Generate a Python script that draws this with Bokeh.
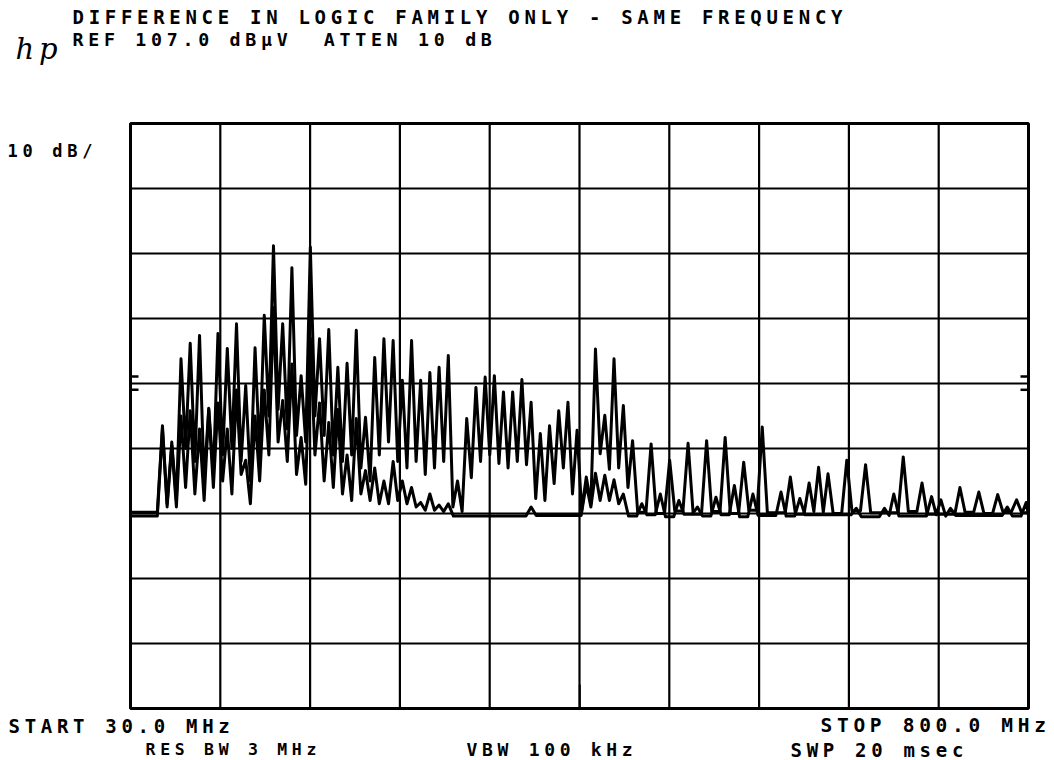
from bokeh.plotting import figure
from bokeh.models import Range1d, Label
from bokeh.embed import file_html
from bokeh.resources import INLINE

# ---------------- data ----------------
START_MHZ = 30.0
STOP_MHZ = 800.0
REF_DBUV = 107.0
BOTTOM_DBUV = 17.0

X_DIV_MHZ = [107, 184, 261, 338, 415, 492, 569, 646, 723]
Y_DIV_DBUV = [27, 37, 47, 57, 67, 77, 87, 97]

# Trace A: peaks (MHz, dBuV) and level of the dip that follows each peak
A_MHZ = [57.4, 65.4, 73.3, 81.2, 89.2, 97.1, 105.0, 113.0, 120.9, 128.8,
         136.8, 144.7, 152.6, 160.5, 168.4, 176.3, 184.2, 192.1, 200.0, 207.8,
         215.7, 223.6, 231.5, 239.4, 247.3, 255.2, 263.1, 271.0, 278.8, 286.7,
         294.6, 302.5, 310.4, 318.3, 326.2, 334.1, 342.0, 349.8, 357.7, 365.6,
         373.5, 381.4, 389.3, 397.2, 405.1, 412.9, 420.8, 428.7, 436.7, 444.6,
         452.6, 460.5, 476.4, 492.3, 508.1, 524.0, 539.9, 555.8, 571.7, 595.8,
         611.9, 620.0, 628.1, 644.2, 660.3, 692.6, 708.7, 741.2, 757.4, 773.6,
         789.8]
A_PEAK = [60.5, 58.0, 70.8, 73.2, 74.4, 63.2, 74.7, 72.4, 76.2, 66.7,
          72.5, 77.5, 88.2, 76.2, 84.8, 68.2, 88.0, 73.9, 75.3, 69.5,
          70.1, 75.2, 61.8, 71.0, 73.9, 73.6, 67.5, 73.6, 67.5, 68.7,
          69.5, 71.3, 52.0, 61.6, 66.4, 68.0, 68.2, 65.7, 65.7, 67.6,
          64.1, 59.3, 60.5, 62.8, 64.1, 59.8, 52.6, 72.3, 62.1, 70.8,
          63.6, 58.2, 57.7, 55.2, 57.8, 58.2, 58.7, 54.9, 60.3, 52.6,
          51.7, 54.1, 53.1, 55.2, 54.5, 55.7, 51.7, 51.0, 50.3, 49.9,
          49.1]
A_DIP = [48.5, 49.0, 57.0, 55.0, 52.0, 53.0, 56.0, 57.0, 55.0, 52.0,
         56.0, 62.0, 63.0, 60.0, 59.0, 58.0, 62.0, 59.0, 56.0, 55.0,
         56.0, 54.0, 52.0, 56.0, 58.0, 55.0, 54.0, 55.0, 53.0, 54.0,
         55.0, 48.0, 47.3, 52.5, 55.0, 56.0, 54.7, 54.0, 55.0, 54.5,
         49.3, 49.0, 51.6, 54.0, 50.0, 47.5, 48.5, 56.2, 53.8, 54.0,
         51.0, 47.2, 47.0, 47.4, 46.9, 47.3, 47.0, 47.5, 47.1, 46.9,
         47.3, 47.2, 47.0, 47.4, 47.1, 47.3, 46.9, 47.2, 47.0, 47.3,
         47.1]
A_FLOOR_START = 47.2

# Trace B
B_MHZ = [57.4, 65.4, 73.3, 81.2, 89.2, 97.1, 105.0, 113.0, 120.9, 128.8,
         136.8, 144.7, 152.6, 160.5, 168.4, 176.3, 184.2, 192.1, 200.0, 207.8,
         215.7, 223.6, 231.5, 239.4, 247.3, 255.2, 263.1, 271.0, 278.8, 286.7,
         294.6, 302.5, 373.5, 420.8, 428.7, 436.7, 444.6, 452.6, 468.4, 484.3,
         500.2, 516.1, 532.0, 547.8, 563.7, 587.8, 603.9, 652.3, 676.5, 684.5,
         716.9, 724.9, 733.1, 781.8, 798.0]
B_PEAK = [60.0, 57.5, 62.0, 62.8, 60.0, 63.0, 64.0, 60.0, 66.0, 55.2,
          62.0, 66.0, 78.7, 64.4, 70.0, 58.7, 74.0, 64.0, 61.0, 63.0,
          56.0, 61.6, 53.6, 54.0, 52.0, 55.0, 52.0, 51.0, 48.7, 50.0,
          48.3, 48.5, 48.0, 51.5, 53.2, 52.9, 52.2, 50.0, 48.5, 50.0,
          49.0, 48.0, 49.5, 51.3, 50.0, 50.3, 49.3, 47.8, 47.8, 50.0,
          49.6, 49.1, 47.8, 48.0, 48.7]
B_DIP = [48.0, 48.0, 51.0, 50.0, 49.0, 51.0, 52.0, 50.0, 53.0, 48.5,
         52.0, 56.0, 58.0, 55.0, 53.0, 51.5, 56.0, 52.0, 51.0, 50.0,
         49.0, 50.0, 49.0, 48.5, 48.5, 49.0, 48.5, 48.0, 47.5, 47.5,
         47.3, 46.6, 46.7, 48.0, 49.0, 49.0, 48.5, 46.6, 46.8, 46.5,
         46.9, 46.6, 46.8, 46.5, 46.7, 46.6, 46.8, 46.5, 46.7, 46.6,
         46.8, 46.6, 46.7, 46.6, 46.7]
B_FLOOR_START = 46.6

TITLE = "DIFFERENCE IN LOGIC FAMILY ONLY - SAME FREQUENCY"
REF_TEXT = "REF 107.0 dB\u03bcV\u00a0 ATTEN 10 dB"
SCALE_TEXT = "10 dB/"
START_TEXT = "START 30.0 MHz"
STOP_TEXT = "STOP 800.0 MHz"
RBW_TEXT = "RES BW 3 MHz"
VBW_TEXT = "VBW 100 kHz"
SWP_TEXT = "SWP 20 msec"

# ---------------- layout ----------------
W, H = 1054, 760
GL, GR, GT, GB = 130, 1028, 123, 708   # graticule edges in canvas px
MHZ_PER_PX = (STOP_MHZ - START_MHZ) / (GR - GL)
DB_PER_PX = (REF_DBUV - BOTTOM_DBUV) / (GB - GT)
HALF_BASE_MHZ = 4.4      # half width of an isolated peak at its foot (3 MHz RBW)
TEXT_DY = 7              # measured offset of the rendered baseline


def px_x(px):
    return START_MHZ + (px - GL) * MHZ_PER_PX


def px_y(py):
    return REF_DBUV - (py - GT) * DB_PER_PX


def build_trace(freqs, peaks, dips, floor0):
    xs, ys = [START_MHZ], [floor0]
    xs.append(freqs[0] - HALF_BASE_MHZ)
    ys.append(floor0)
    for i, (f, pk) in enumerate(zip(freqs, peaks)):
        xs.append(f)
        ys.append(pk)
        if i + 1 < len(freqs):
            nf = freqs[i + 1]
            if nf - f <= 9.0:
                xs.append((f + nf) / 2.0)
                ys.append(dips[i])
            else:
                xs.extend([f + HALF_BASE_MHZ, nf - HALF_BASE_MHZ])
                ys.extend([dips[i], dips[i]])
        else:
            end = min(STOP_MHZ, f + HALF_BASE_MHZ)
            xs.append(end)
            ys.append(dips[i])
            if end < STOP_MHZ:
                xs.append(STOP_MHZ)
                ys.append(dips[i])
    return xs, ys


p = figure(width=W, height=H, output_backend="svg", toolbar_location=None,
           title=None,
           x_range=Range1d(px_x(0), px_x(W)), y_range=Range1d(px_y(H), px_y(0)),
           x_axis_type=None, y_axis_type=None,
           min_border=0, min_border_left=0, min_border_right=0,
           min_border_top=0, min_border_bottom=0)
p.background_fill_color = "white"
p.border_fill_color = "white"
p.outline_line_color = None
p.xgrid.visible = False
p.ygrid.visible = False
p.styles = {"letter-spacing": "4.7px"}

# graticule
p.segment(x0=X_DIV_MHZ, y0=[BOTTOM_DBUV] * len(X_DIV_MHZ),
          x1=X_DIV_MHZ, y1=[REF_DBUV] * len(X_DIV_MHZ),
          line_color="black", line_width=2.2)
p.segment(x0=[START_MHZ] * len(Y_DIV_DBUV), y0=Y_DIV_DBUV,
          x1=[STOP_MHZ] * len(Y_DIV_DBUV), y1=Y_DIV_DBUV,
          line_color="black", line_width=2.2)
p.quad(left=[START_MHZ], right=[STOP_MHZ], bottom=[BOTTOM_DBUV], top=[REF_DBUV],
       fill_color=None, line_color="black", line_width=3)

for freqs, peaks, dips, f0 in ((B_MHZ, B_PEAK, B_DIP, B_FLOOR_START),
                               (A_MHZ, A_PEAK, A_DIP, A_FLOOR_START)):
    xs, ys = build_trace(freqs, peaks, dips, f0)
    p.line(xs, ys, line_color="black", line_width=3.0, line_join="round")

# edge markers (threshold ticks) and bottom marker
tick_len = px_x(GL + 8) - START_MHZ
for lvl in (px_y(376), px_y(389.3)):
    p.segment(x0=[START_MHZ, STOP_MHZ - tick_len], y0=[lvl, lvl],
              x1=[START_MHZ + tick_len, STOP_MHZ], y1=[lvl, lvl],
              line_color="black", line_width=2.5)
p.segment(x0=[px_x(579.3)], y0=[BOTTOM_DBUV], x1=[px_x(579.3)], y1=[px_y(684)],
          line_color="black", line_width=2)

FONT = "DejaVu Sans Mono"


def add_text(txt, px, py, size="19px", style="bold", font=FONT):
    p.add_layout(Label(x=px_x(px), y=px_y(py - TEXT_DY), text=txt, text_font=font,
                       text_font_size=size, text_font_style=style,
                       text_color="black", text_align="left",
                       text_baseline="alphabetic"))


add_text(TITLE, 72, 23)
add_text(REF_TEXT, 72, 46, size="18.3px")
add_text(SCALE_TEXT, 7, 157, size="17px")
add_text(START_TEXT, 8, 732)
add_text(STOP_TEXT, 820, 732, size="19.5px")
add_text(RBW_TEXT, 145, 756, size="16.5px")
add_text(VBW_TEXT, 466, 756, size="18px")
add_text(SWP_TEXT, 790, 756)
add_text("hp", 15, 55, size="29px", style="italic", font="DejaVu Serif")

open("out.html", "w").write(file_html(p, INLINE))
